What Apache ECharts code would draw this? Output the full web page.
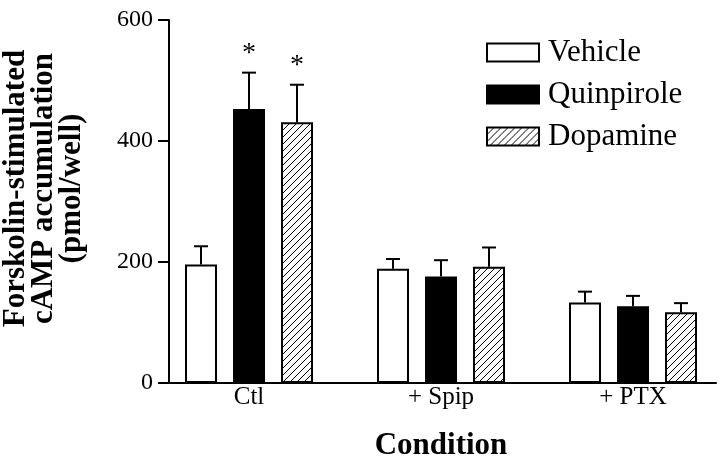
<!DOCTYPE html>
<html>
<head>
<meta charset="utf-8">
<script src="https://cdn.jsdelivr.net/npm/echarts@6/dist/echarts.min.js"></script>
<style>
html,body{margin:0;padding:0;background:#fff;}
#chart{width:720px;height:460px;}
</style>
</head>
<body>
<div id="chart"></div>
<script>
// ---- data ----
const categories = ['Ctl', '+ Spip', '+ PTX'];
const seriesNames = ['Vehicle', 'Quinpirole', 'Dopamine'];
const vehicle = [196, 189, 133];
const vehicleErr = [30, 16, 18];
const quinpirole = [453, 176, 127];
const quinpiroleErr = [60, 27, 17];
const dopamine = [431, 192, 117];
const dopamineErr = [62, 32, 15];
const quinpiroleSig = [1, 0, 0];
const dopamineSig = [1, 0, 0];
const yTicks = [0, 200, 400, 600];

const FONT = "'Liberation Serif', 'Times New Roman', serif";

// hatch pattern for Dopamine
function makeHatch() {
  const s = 7;
  const c = document.createElement('canvas');
  c.width = s; c.height = s;
  const g = c.getContext('2d');
  g.fillStyle = '#fff';
  g.fillRect(0, 0, s, s);
  g.strokeStyle = '#000';
  g.lineWidth = 1;
  g.beginPath();
  g.moveTo(0, s); g.lineTo(s, 0);
  g.moveTo(-1, 1); g.lineTo(1, -1);
  g.moveTo(s - 1, s + 1); g.lineTo(s + 1, s - 1);
  g.stroke();
  return c;
}
const hatch = { image: makeHatch(), repeat: 'repeat' };

const fills = ['#ffffff', '#000000', hatch];
const means = [vehicle, quinpirole, dopamine];
const errs = [vehicleErr, quinpiroleErr, dopamineErr];
const sigs = [[0, 0, 0], quinpiroleSig, dopamineSig];

const BAR_W = 32, BAR_GAP = 16;

const chart = echarts.init(document.getElementById('chart'), null, { renderer: 'canvas' });

const series = [];
seriesNames.forEach((name, i) => {
  series.push({
    name: name,
    type: 'bar',
    xAxisIndex: 1,
    yAxisIndex: 1,
    barWidth: BAR_W,
    barGap: (BAR_GAP / BAR_W * 100) + '%',
    data: means[i],
    itemStyle: { color: fills[i], borderColor: '#000', borderWidth: 2 },
    emphasis: { disabled: true },
    z: 2
  });
});
seriesNames.forEach((name, i) => {
  series.push({
    name: name + ' SEM',
    type: 'custom',
    xAxisIndex: 1,
    yAxisIndex: 1,
    z: 3,
    silent: true,
    data: categories.map((c, k) => [k, means[i][k], errs[i][k], sigs[i][k]]),
    renderItem: function (params, api) {
      const cat = api.value(0), m = api.value(1), e = api.value(2), sig = api.value(3);
      const off = (i - 1) * (BAR_W + BAR_GAP);
      const p0 = api.coord([cat, m]);
      const p1 = api.coord([cat, m + e]);
      const x = p0[0] + off;
      const children = [
        { type: 'line', shape: { x1: x, y1: p0[1], x2: x, y2: p1[1] }, style: { stroke: '#000', lineWidth: 2 } },
        { type: 'line', shape: { x1: x - 7, y1: p1[1], x2: x + 7, y2: p1[1] }, style: { stroke: '#000', lineWidth: 2 } }
      ];
      if (sig) {
        children.push({
          type: 'text',
          style: { x: x, y: p1[1] - 19, text: '*', fill: '#000', font: '28px ' + FONT, textAlign: 'center', textVerticalAlign: 'middle' }
        });
      }
      return { type: 'group', children: children };
    }
  });
});

chart.setOption({
  animation: false,
  backgroundColor: '#fff',
  grid: [
    { left: 169, right: 4, top: 20, bottom: 77, containLabel: false, outerBoundsMode: 'none' },
    { left: 153, right: -9, top: 20, bottom: 77, containLabel: false, outerBoundsMode: 'none' }
  ],
  legend: {
    orient: 'vertical',
    left: 486,
    top: 37,
    padding: 0,
    itemWidth: 52,
    itemHeight: 18,
    itemGap: 11,
    icon: 'rect',
    data: seriesNames,
    selectedMode: false,
    itemStyle: { borderColor: '#000', borderWidth: 2 },
    textStyle: { fontFamily: FONT, fontSize: 31, lineHeight: 29, color: '#000', padding: [0, 0, 0, 4] }
  },
  xAxis: [
    {
      type: 'category', gridIndex: 0, data: [''],
      axisLine: { show: true, lineStyle: { color: '#000', width: 2 } },
      axisTick: { show: false }, axisLabel: { show: false }, splitLine: { show: false }
    },
    {
      type: 'category', gridIndex: 1, data: categories,
      axisLine: { show: false }, axisTick: { show: false },
      axisLabel: { fontFamily: FONT, fontSize: 25, color: '#000', margin: 2 },
      name: 'Condition', nameLocation: 'middle', nameGap: 47,
      nameTextStyle: { fontFamily: FONT, fontSize: 31, fontWeight: 'bold', color: '#000' }
    }
  ],
  yAxis: [
    {
      type: 'value', gridIndex: 0, min: 0, max: 600, interval: 200,
      axisLine: { show: true, lineStyle: { color: '#000', width: 2 } },
      axisTick: { show: true, length: 11, lineStyle: { color: '#000', width: 2 } },
      axisLabel: { fontFamily: FONT, fontSize: 24, color: '#000', margin: 16,
        formatter: v => yTicks.indexOf(v) >= 0 ? String(v) : '' },
      splitLine: { show: false },
      name: 'Forskolin-stimulated\ncAMP accumulation\n(pmol/well)',
      nameLocation: 'middle', nameGap: 83, nameRotate: 90,
      nameTextStyle: { fontFamily: FONT, fontSize: 31, fontWeight: 'bold', color: '#000', lineHeight: 28, padding: [0, 0, 0, 26] }
    },
    {
      type: 'value', gridIndex: 1, min: 0, max: 600, interval: 200,
      show: false
    }
  ],
  series: series
});
</script>
</body>
</html>
